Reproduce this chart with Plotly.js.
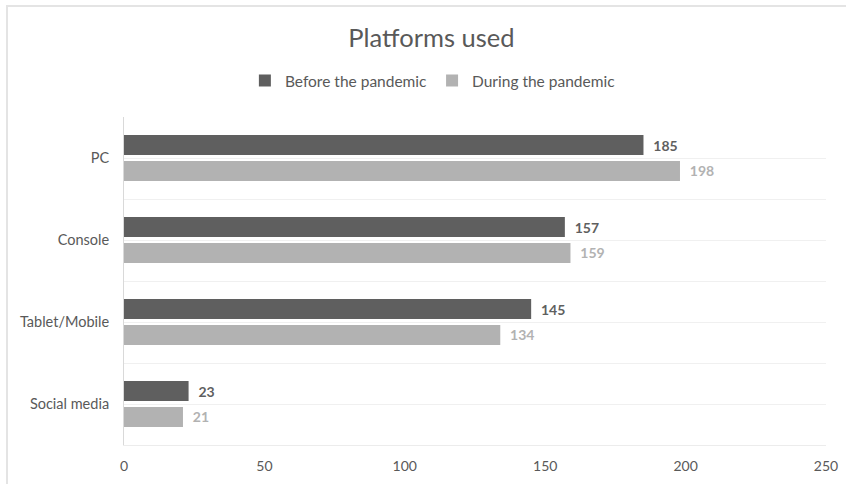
<!DOCTYPE html>
<html>
<head>
<meta charset="utf-8">
<script src="https://cdn.plot.ly/plotly-3.0.1.min.js"></script>
<style>
html,body{margin:0;padding:0;background:#fff;}
#wrap{position:relative;width:846px;height:484px;overflow:hidden;}
#chart{position:absolute;left:0;top:0;width:846px;height:484px;}
#frame{position:absolute;left:6px;top:5px;width:860px;height:500px;border-left:2px solid #e4e4e4;border-top:2px solid #e4e4e4;pointer-events:none;}
</style>
</head>
<body>
<div id="wrap"><div id="chart"></div><div id="frame"></div></div>
<script>
const categories = ["PC", "Console", "Tablet/Mobile", "Social media"];
const seriesNames = ["Before the pandemic", "During the pandemic"];
const beforeValues = [185, 157, 145, 23];
const duringValues = [198, 159, 134, 21];
const xTicks = [0, 50, 100, 150, 200, 250];

const FONT = "Lato, 'Open Sans', sans-serif";
const dark = "#5f5f5f";
const light = "#b2b2b2";
const yPos = categories.map((c, i) => i);
const pad = "\u00a0\u00a0";

const traces = [
  {type: "bar", orientation: "h", name: seriesNames[0], x: beforeValues, y: yPos,
   marker: {color: dark}, texttemplate: pad + "%{x}", textposition: "outside",
   textfont: {family: FONT, size: 14, color: dark, weight: "bold"}, cliponaxis: false},
  {type: "bar", orientation: "h", name: seriesNames[1], x: duringValues, y: yPos,
   marker: {color: light}, texttemplate: pad + "%{x}", textposition: "outside",
   textfont: {family: FONT, size: 14, color: light, weight: "bold"}, cliponaxis: false}
];

const layout = {
  width: 846, height: 484,
  margin: {l: 124, r: 20, t: 117, b: 39},
  paper_bgcolor: "#fff", plot_bgcolor: "#fff",
  font: {family: FONT, color: "#595959"},
  title: {text: "Platforms used", x: 0.51, xanchor: "center", y: 0.922, yanchor: "middle",
          font: {family: FONT, size: 25.5, color: "#595959"}},
  showlegend: true,
  legend: {orientation: "h", x: 0.44, xanchor: "center", y: 1.11, yanchor: "middle",
           font: {family: FONT, size: 15.5, color: "#595959"}, traceorder: "normal",
           itemwidth: 30, itemsizing: "constant"},
  barmode: "group", bargap: 0.366, bargroupgap: 0.23,
  xaxis: {range: [0, 250], tickvals: xTicks, showgrid: false, zeroline: false,
          showline: true, linecolor: "#ececec", linewidth: 1,
          tickfont: {family: FONT, size: 14, color: "#595959"}, ticks: "", ticklabelstandoff: 8},
  yaxis: {range: [3.5, -0.5], tickvals: yPos, ticktext: categories, showgrid: true,
          gridcolor: "#f0f0f0", gridwidth: 1, zeroline: false,
          showline: true, linecolor: "#d9d9d9", linewidth: 1, ticks: "",
          ticklabelstandoff: 11,
          tickfont: {family: FONT, size: 14.5, color: "#595959"},
          minor: {tickmode: "linear", tick0: 0.5, dtick: 1, showgrid: true, gridcolor: "#f0f0f0", gridwidth: 1, ticks: ""}}
};

Plotly.newPlot("chart", traces, layout, {displayModeBar: false, staticPlot: true});
</script>
</body>
</html>
